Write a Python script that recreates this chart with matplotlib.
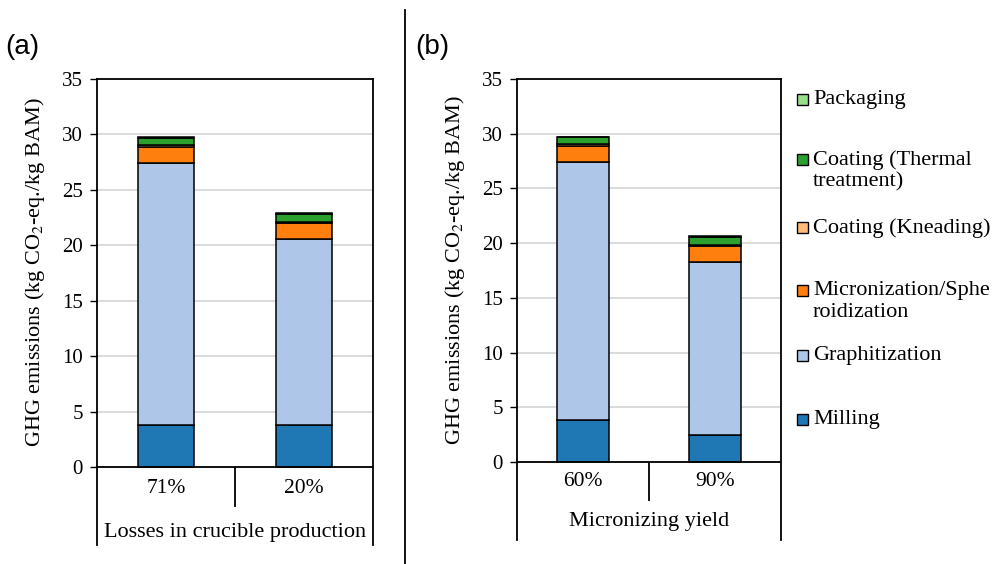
import numpy as np
import matplotlib.pyplot as plt
from matplotlib.patches import Rectangle

# stages, bottom to top
stages = ["Milling", "Graphitization", "Micronization/Sphe\nroidization",
          "Coating (Kneading)", "Coating (Thermal\ntreatment)", "Packaging"]
colors = ["#1f77b4", "#aec7e8", "#ff7f0e", "#ffbb78", "#2ca02c", "#98df8a"]

# (a) losses in crucible production
cats_a = ["71%", "20%"]
milling_a = [3.8, 3.8]
graph_a = [23.65, 16.76]
micro_a = [1.42, 1.45]
knead_a = [0.15, 0.1]
thermal_a = [0.65, 0.75]
pack_a = [0.07, 0.07]

# (b) micronizing yield
cats_b = ["60%", "90%"]
milling_b = [3.8, 2.5]
graph_b = [23.65, 15.75]
micro_b = [1.42, 1.5]
knead_b = [0.15, 0.12]
thermal_b = [0.65, 0.7]
pack_b = [0.07, 0.08]

plt.rcParams['font.family'] = ['Liberation Serif', 'DejaVu Serif']

fig = plt.figure(figsize=(9.92, 5.64), dpi=100)


def panel(rect, ymin, cats, series, width, group, cat_y, grp_y, div_y):
    ax = fig.add_axes(rect)
    x = np.arange(len(cats))
    bottom = np.zeros(len(cats))
    for vals, c in zip(series, colors):
        ax.bar(x, vals, width, bottom=bottom, color=c, edgecolor="black",
               linewidth=1.1, zorder=3)
        bottom += np.array(vals)
    ax.set_xlim(-0.5, len(cats) - 0.5)
    ax.set_ylim(ymin, 35)
    ax.set_yticks(np.arange(0, 36, 5))
    ax.tick_params(axis="y", labelsize=15, length=5, width=1, direction="out", pad=5)
    ax.set_xticks([])
    ax.grid(axis="y", color="#d9d9d9", linewidth=1.3, zorder=0)
    ax.spines["bottom"].set_visible(False)
    for s in ["left", "right", "top"]:
        ax.spines[s].set_linewidth(1.3)
    ax.axhline(0, color="black", linewidth=1.3, zorder=4)
    ax.vlines(0.5, div_y, 0, color="black", linewidth=1.3)
    for xi, c in zip(x, cats):
        ax.text(xi, cat_y, c, ha="center", va="center", fontsize=15.5)
    ax.text(0.5, grp_y, group, ha="center", va="center", fontsize=16)
    return ax


panel([97 / 992, 1 - 545 / 564, 276 / 992, 466 / 564], -7.04, cats_a,
      [milling_a, graph_a, micro_a, knead_a, thermal_a, pack_a], 0.4,
      "Losses in crucible production", -1.9, -5.9, -3.6)
panel([517 / 992, 1 - 540 / 564, 264 / 992, 461 / 564], -7.13, cats_b,
      [milling_b, graph_b, micro_b, knead_b, thermal_b, pack_b], 0.39,
      "Micronizing yield", -1.8, -5.4, -3.54)

ylab = "GHG emissions (kg CO$_2$-eq./kg BAM)"
fig.text(35 / 992, 1 - 272 / 564, ylab, rotation=90, ha="center", va="center",
         fontsize=16, math_fontfamily="stix")
fig.text(455 / 992, 1 - 270 / 564, ylab, rotation=90, ha="center", va="center",
         fontsize=16, math_fontfamily="stix")

fig.text(5 / 992, 1 - 47 / 564, "(a)", fontsize=20, family="Liberation Sans",
         ha="left", va="center")
fig.text(415 / 992, 1 - 47 / 564, "(b)", fontsize=20, family="Liberation Sans",
         ha="left", va="center")

# divider between panels
fig.add_artist(plt.Line2D([405 / 992, 405 / 992], [0, 1 - 10 / 564],
                          color="black", linewidth=1.3))

# legend, top entry = last stage
leg_y = [100, 160, 228, 291, 356, 420]
for name, c, yp in zip(stages[::-1], colors[::-1], leg_y):
    fig.add_artist(Rectangle((797 / 992, 1 - (yp + 5) / 564), 11 / 992, 11 / 564,
                             facecolor=c, edgecolor="black", linewidth=1.0))
    fig.text(813 / 992, 1 - (yp - 10) / 564, name, fontsize=16, ha="left",
             va="top", linespacing=1.2)

fig.savefig("out.png", dpi=100)
